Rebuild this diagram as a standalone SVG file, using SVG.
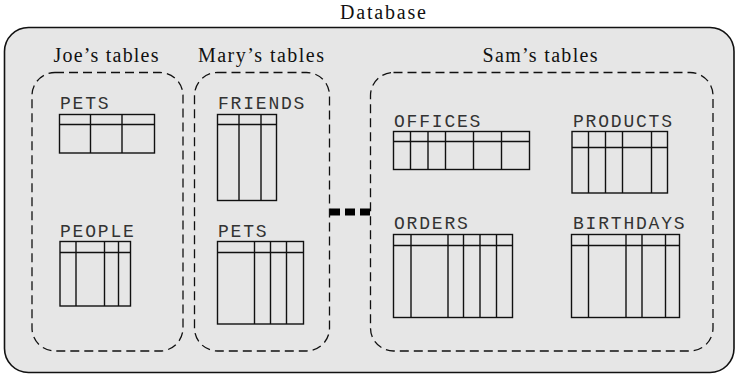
<svg xmlns="http://www.w3.org/2000/svg" width="736" height="374" viewBox="0 0 736 374">
<style>
.title{font-family:"Liberation Serif","Times New Roman",serif;font-size:20px;fill:#111;text-anchor:middle}
.lbl{font-family:"Liberation Mono","Courier New",monospace;font-size:18px;fill:#333;letter-spacing:1.8px}
.grp{fill:none;stroke:#111;stroke-width:1.3;stroke-dasharray:9,5}
.tbl rect,.tbl path{fill:none;stroke:#111;stroke-width:1.4}
</style>
<rect x="4.5" y="27.5" width="729.5" height="345" rx="24" fill="#e6e6e6" stroke="#111" stroke-width="1.6"/>
<text class="title" x="383" y="19" textLength="86" lengthAdjust="spacing">Database</text>

<g id="joe">
<rect class="grp" x="32" y="72.5" width="151" height="278.5" rx="23"/>
<text class="title" x="106" y="62" textLength="105" lengthAdjust="spacing">Joe’s tables</text>
</g>
<g id="mary">
<rect class="grp" x="194.5" y="72.5" width="135" height="278.5" rx="23"/>
<text class="title" x="261" y="62" textLength="126" lengthAdjust="spacing">Mary’s tables</text>
</g>
<g id="sam">
<rect class="grp" x="370.5" y="72.5" width="342.5" height="278.5" rx="23"/>
<text class="title" x="540" y="62" textLength="115" lengthAdjust="spacing">Sam’s tables</text>
</g>

<g id="joe-pets" class="tbl">
<text class="lbl" x="60" y="109">PETS</text>
<rect x="59.5" y="114.5" width="95" height="38.5"/>
<path d="M59.5 124.5H154.5M90.5 114.5V153M122 114.5V153"/>
</g>
<g id="joe-people" class="tbl">
<text class="lbl" x="60" y="237">PEOPLE</text>
<rect x="60" y="241.5" width="70.5" height="64.5"/>
<path d="M60 252.5H130.5M76 241.5V306M104.5 241.5V306M118.5 241.5V306"/>
</g>
<g id="mary-friends" class="tbl">
<text class="lbl" x="218" y="109">FRIENDS</text>
<rect x="217.5" y="114.5" width="59" height="86"/>
<path d="M217.5 124.5H276.5M239 114.5V200.5M261 114.5V200.5"/>
</g>
<g id="mary-pets" class="tbl">
<text class="lbl" x="218" y="237">PETS</text>
<rect x="217.5" y="241.5" width="86" height="82.5"/>
<path d="M217.5 252.5H303.5M254.5 241.5V324M270.5 241.5V324M286.5 241.5V324"/>
</g>
<g id="sam-offices" class="tbl">
<text class="lbl" x="394" y="127">OFFICES</text>
<rect x="393.5" y="131.5" width="136" height="38"/>
<path d="M393.5 141.5H529.5M410.5 131.5V169.5M428 131.5V169.5M445.5 131.5V169.5M473.5 131.5V169.5M501.5 131.5V169.5"/>
</g>
<g id="sam-products" class="tbl">
<text class="lbl" x="573" y="127">PRODUCTS</text>
<rect x="572" y="131.5" width="95.5" height="61.5"/>
<path d="M572 147.5H667.5M588.5 131.5V193M605.5 131.5V193M622.5 131.5V193M651.5 131.5V193"/>
</g>
<g id="sam-orders" class="tbl">
<text class="lbl" x="394" y="229">ORDERS</text>
<rect x="393.5" y="234.5" width="119" height="83"/>
<path d="M393.5 245.5H512.5M411 234.5V317.5M448 234.5V317.5M463.5 234.5V317.5M480 234.5V317.5M496.5 234.5V317.5"/>
</g>
<g id="sam-birthdays" class="tbl">
<text class="lbl" x="573" y="229">BIRTHDAYS</text>
<rect x="571.5" y="234.5" width="108" height="83"/>
<path d="M571.5 245.5H679.5M588.5 234.5V317.5M626 234.5V317.5M642 234.5V317.5M665.5 234.5V317.5"/>
</g>

<g id="connectors">
<path d="M330 212H370" stroke="#000" stroke-width="7" stroke-dasharray="10,5" fill="none"/>
</g>
</svg>
